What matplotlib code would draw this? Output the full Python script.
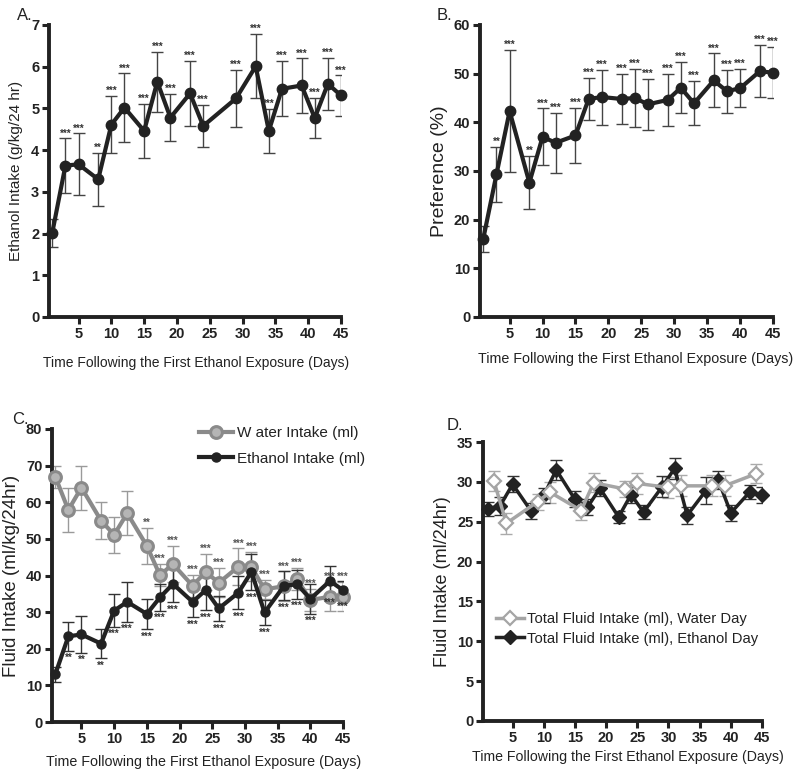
import matplotlib
matplotlib.use('Agg')
import matplotlib.pyplot as plt
import numpy as np

plt.rcParams['font.family'] = ['Liberation Sans', 'DejaVu Sans']

# ---------------- data ----------------
days_a = [1, 3, 5, 8, 10, 12, 15, 17, 19, 22, 24, 29, 32, 34, 36, 39, 41, 43, 45]
ethanol_a = [2.02, 3.63, 3.66, 3.30, 4.61, 5.02, 4.46, 5.64, 4.78, 5.36, 4.58, 5.24,
             6.01, 4.46, 5.47, 5.55, 4.77, 5.59, 5.31]
ethanol_a_err = [0.33, 0.65, 0.74, 0.64, 0.68, 0.82, 0.65, 0.72, 0.57, 0.78, 0.50, 0.69,
                 0.77, 0.52, 0.66, 0.65, 0.48, 0.62, 0.48]
stars_a = ['', '***', '***', '**', '***', '***', '***', '***', '***', '***', '***', '***',
           '***', '***', '***', '***', '***', '***', '***']

days_b = [1, 3, 5, 8, 10, 12, 15, 17, 19, 22, 24, 26, 29, 31, 33, 36, 38, 40, 43, 45]
pref_b = [16.1, 29.3, 42.3, 27.6, 37.0, 35.8, 37.3, 44.8, 45.2, 44.8, 45.0, 43.7, 44.6,
          47.1, 43.9, 48.6, 46.4, 47.0, 50.5, 50.2]
pref_b_err = [2.7, 5.6, 12.6, 5.45, 5.85, 6.2, 5.6, 4.4, 5.65, 5.1, 5.9, 5.2, 5.4, 5.25,
              4.55, 5.55, 4.4, 3.95, 5.35, 5.25]
stars_b = ['', '**', '***', '**', '***', '***', '***', '***', '***', '***', '***', '***',
           '***', '***', '***', '***', '***', '***', '***', '***']

days_c = [1, 3, 5, 8, 10, 12, 15, 17, 19, 22, 24, 26, 29, 31, 33, 36, 38, 40, 43, 45]
water_c = [67.0, 57.9, 64.0, 55.0, 51.1, 57.0, 48.1, 40.1, 43.1, 37.2, 41.0, 38.0, 42.4,
           42.4, 36.2, 37.1, 39.0, 33.3, 34.2, 34.2]
water_c_err = [3, 6, 6, 5, 5, 6, 5, 3, 5, 3, 5, 4, 5, 4, 2.5, 4, 3, 3, 4, 4]
ethanol_c = [13.0, 23.4, 23.9, 21.4, 30.4, 32.8, 29.5, 34.0, 37.7, 32.8, 36.0, 31.0, 35.3,
             41.0, 29.9, 37.2, 37.6, 33.6, 38.5, 36.0]
ethanol_c_err = [2, 4, 5, 4, 4.5, 5.5, 4.2, 3.7, 5, 4.2, 5.5, 3.5, 4.5, 5, 3.5, 4, 4, 4, 4, 2.5]
stars_c_water = ['', '', '', '', '', '', '**', '***', '***', '***', '***', '***', '***',
                 '***', '***', '***', '***', '***', '***', '***']
stars_c_eth = ['', '**', '**', '**', '***', '***', '***', '***', '***', '***', '***', '***',
               '***', '***', '***', '***', '***', '***', '***', '***']

days_d_eth = [1, 3, 5, 8, 10, 12, 15, 17, 19, 22, 24, 26, 29, 31, 33, 36, 38, 40, 43, 45]
total_d_eth = [26.6, 27.0, 29.7, 26.3, 28.3, 31.5, 27.8, 26.8, 29.2, 25.6, 28.4, 26.2, 29.4,
               31.7, 25.8, 28.9, 30.2, 26.1, 28.7, 28.3]
total_d_eth_err = [0.9, 1.1, 1.0, 1.0, 0.9, 1.3, 1.0, 1.0, 1.0, 0.8, 1.0, 0.9, 1.3, 1.3, 1.1,
                   1.7, 1.1, 1.0, 0.9, 1.0]
days_d_wat = [2, 4, 9, 11, 16, 18, 23, 25, 30, 32, 37, 39, 44]
total_d_wat = [30.1, 24.8, 27.5, 28.7, 26.4, 29.9, 29.1, 29.8, 29.3, 29.5, 29.5, 29.5, 31.0]
total_d_wat_err = [1.2, 1.3, 1.0, 1.3, 1.2, 1.2, 1.0, 1.3, 1.3, 1.3, 1.3, 1.3, 1.2]

xticks = [5, 10, 15, 20, 25, 30, 35, 40, 45]
xlabel = 'Time Following the First Ethanol Exposure (Days)'

# ---------------- figure ----------------
W, H = 800, 778
fig = plt.figure(figsize=(W / 100, H / 100), dpi=100)


def px_axes(l, t, r, b):
    return fig.add_axes([l / W, 1 - b / H, (r - l) / W, (b - t) / H])


DARK = '#222222'


def style(ax, yticks, xlim, ylim):
    for s in ['top', 'right']:
        ax.spines[s].set_visible(False)
    for s in ['left', 'bottom']:
        ax.spines[s].set_linewidth(2.8)
        ax.spines[s].set_color(DARK)
    ax.set_xlim(*xlim)
    ax.set_ylim(*ylim)
    ax.set_xticks(xticks)
    ax.set_yticks(yticks)
    ax.tick_params(width=2.2, length=5, color=DARK, labelsize=10.5, pad=2,
                   labelcolor=DARK)
    for lab in ax.get_xticklabels() + ax.get_yticklabels():
        lab.set_fontweight('bold')


def star_text(ax, xs, ys, errs, labels, above=True, dy=0.0, fs=7, color='#333333'):
    for x, y, e, s in zip(xs, ys, errs, labels):
        if not s:
            continue
        if above:
            ax.text(x, y + e + dy, s, ha='center', va='bottom', fontsize=fs,
                    color=color, fontweight='bold')
        else:
            ax.text(x, y - e - dy, s, ha='center', va='top', fontsize=fs,
                    color=color, fontweight='bold')


def set_xlabel_px(ax, text, cx, cy, fs):
    ax.set_xlabel(text, fontsize=fs, color=DARK)
    inv = ax.transAxes.inverted()
    fx, fy = inv.transform((cx, H - cy))
    ax.xaxis.set_label_coords(fx, fy)
    ax.xaxis.label.set_va('center')


# ---------- A ----------
axA = px_axes(49, 25, 341, 317)
style(axA, range(0, 8), (0.5, 45), (0, 7))
axA.errorbar(days_a, ethanol_a, yerr=ethanol_a_err, fmt='none', ecolor='#444444',
             elinewidth=1.0, capsize=4, capthick=1.0, zorder=2)
axA.plot(days_a, ethanol_a, '-o', color=DARK, lw=3, ms=7.5, zorder=3, clip_on=False)
star_text(axA, days_a, ethanol_a, ethanol_a_err, stars_a, dy=0.0)
axA.set_ylabel('Ethanol Intake (g/kg/24 hr)', fontsize=11, labelpad=6, color=DARK)
set_xlabel_px(axA, xlabel, 196, 363, 10)
fig.text(17 / W, 1 - 16 / H, 'A.', fontsize=12, va='center', ha='left', color=DARK)

# ---------- B ----------
axB = px_axes(480, 25, 773, 317)
style(axB, range(0, 61, 10), (0.5, 45), (0, 60))
axB.errorbar(days_b, pref_b, yerr=pref_b_err, fmt='none', ecolor='#444444',
             elinewidth=1.0, capsize=4, capthick=1.0, zorder=2)
axB.plot(days_b, pref_b, '-o', color=DARK, lw=3, ms=7.5, zorder=3, clip_on=False)
star_text(axB, days_b, pref_b, pref_b_err, stars_b, dy=0.0)
axB.set_ylabel('Preference (%)', fontsize=14, labelpad=4, color=DARK)
set_xlabel_px(axB, xlabel, 636, 359, 10.3)
fig.text(437 / W, 1 - 16 / H, 'B.', fontsize=12, va='center', ha='left', color=DARK)

# ---------- C ----------
GREY_C = '#8a8a8a'
axC = px_axes(52, 429, 343, 722)
style(axC, range(0, 81, 10), (0.5, 45), (0, 80))
axC.errorbar(days_c, water_c, yerr=water_c_err, fmt='none', ecolor='#9a9a9a',
             elinewidth=1.0, capsize=4, capthick=1.0, zorder=2)
axC.errorbar(days_c, ethanol_c, yerr=ethanol_c_err, fmt='none', ecolor='#333333',
             elinewidth=1.0, capsize=4, capthick=1.0, zorder=2)
axC.plot(days_c, water_c, '-o', color=GREY_C, lw=3, ms=8.5, mfc='#b5b5b5', mec=GREY_C,
         mew=2.2, zorder=3, label='W ater Intake (ml)', clip_on=False)
axC.plot(days_c, ethanol_c, '-o', color=DARK, lw=3, ms=6.5, zorder=4,
         label='Ethanol Intake (ml)', clip_on=False)
star_text(axC, days_c, water_c, water_c_err, stars_c_water, above=True, dy=0.0,
          color='#555555')
star_text(axC, days_c, ethanol_c, ethanol_c_err, stars_c_eth, above=False, dy=0.6)
axC.set_ylabel('Fluid Intake (ml/kg/24hr)', fontsize=13.5, labelpad=4, color=DARK)
set_xlabel_px(axC, xlabel, 204, 762, 10.3)
axC.legend(loc='upper left', bbox_to_anchor=(0.485, 1.03), frameon=False, fontsize=11,
           handlelength=2.2, handletextpad=0.25, labelspacing=0.75, labelcolor=DARK,
           borderaxespad=0.0)
fig.text(12 / W, 1 - 420 / H, 'C.', fontsize=12, va='center', ha='left', color=DARK)

# ---------- D ----------
GREY_D = '#a5a5a5'
axD = px_axes(483, 442, 762, 721)
style(axD, range(0, 36, 5), (0.25, 45), (0, 35))
axD.errorbar(days_d_wat, total_d_wat, yerr=total_d_wat_err, fmt='none', ecolor='#aaaaaa',
             elinewidth=1.0, capsize=4, capthick=1.0, zorder=2)
axD.errorbar(days_d_eth, total_d_eth, yerr=total_d_eth_err, fmt='none', ecolor='#333333',
             elinewidth=1.0, capsize=4, capthick=1.0, zorder=2)
axD.plot(days_d_wat, total_d_wat, '-D', color=GREY_D, lw=2.5, ms=7, mfc='white',
         mec=GREY_D, mew=1.6, zorder=4, label='Total Fluid Intake (ml), Water Day',
         clip_on=False)
axD.plot(days_d_eth, total_d_eth, '-D', color=DARK, lw=2.5, ms=7, zorder=3,
         label='Total Fluid Intake (ml), Ethanol Day', clip_on=False)
axD.set_ylabel('Fluid Intake (ml/24hr)', fontsize=13, labelpad=4, color=DARK)
set_xlabel_px(axD, xlabel, 628, 757, 10.2)
axD.legend(loc='center left', bbox_to_anchor=(0.045, 0.33), frameon=False, fontsize=10.6,
           handlelength=1.9, handletextpad=0.25, labelspacing=0.35, labelcolor=DARK,
           borderaxespad=0.0, borderpad=0.0)
fig.text(447 / W, 1 - 425 / H, 'D.', fontsize=12, va='center', ha='left', color=DARK)

fig.savefig('out.png', dpi=100, facecolor='white')
